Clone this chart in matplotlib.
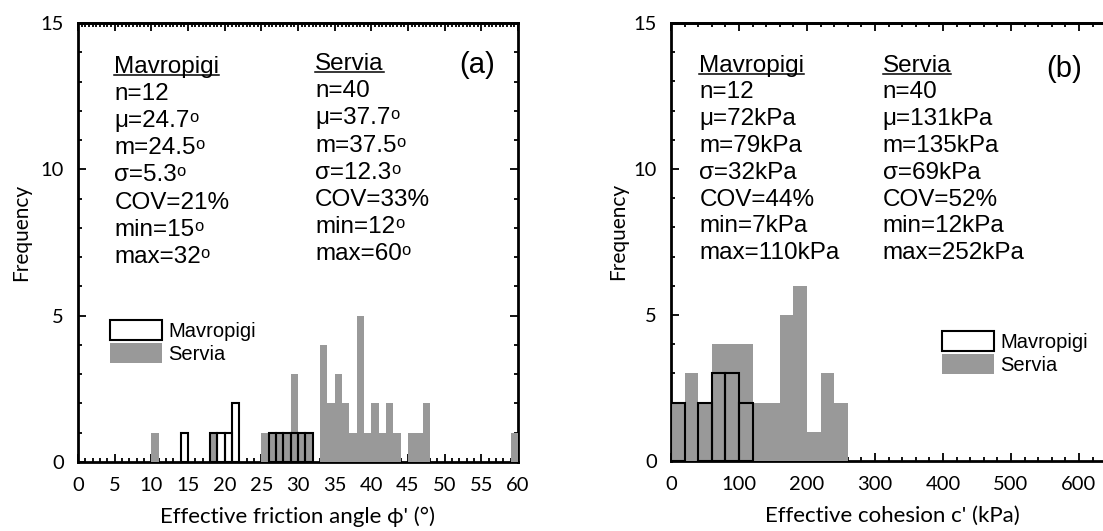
import numpy as np
import matplotlib
matplotlib.use('Agg')
import matplotlib.pyplot as plt
from matplotlib.patches import Patch
from matplotlib.ticker import MultipleLocator

# (a) effective friction angle, 1 deg bins (left edge, count)
phi_serv_left = [10, 18, 25, 26, 27, 28, 29, 30, 31, 33, 34, 35, 36, 37, 38, 39, 40, 41, 42, 43, 45, 46, 47, 59]
phi_serv_count = [1, 1, 1, 1, 1, 1, 3, 1, 1, 4, 2, 3, 2, 1, 5, 1, 2, 1, 2, 1, 1, 1, 2, 1]
phi_mav_left = [14, 18, 19, 20, 21, 26, 27, 28, 29, 30, 31]
phi_mav_count = [1, 1, 1, 1, 2, 1, 1, 1, 1, 1, 1]

# (b) effective cohesion, 20 kPa bins (left edge, count)
c_serv_left = [0, 20, 40, 60, 80, 100, 120, 140, 160, 180, 200, 220, 240]
c_serv_count = [2, 3, 2, 4, 4, 4, 2, 2, 5, 6, 1, 3, 2]
c_mav_left = [0, 40, 60, 80, 100]
c_mav_count = [2, 2, 3, 3, 2]

# summary statistics printed in the panels ('°' = small raised o)
phi_mav_stats = ['n=12', 'μ=24.7°', 'm=24.5°', 'σ=5.3°', 'COV=21%', 'min=15°', 'max=32°']
phi_serv_stats = ['n=40', 'μ=37.7°', 'm=37.5°', 'σ=12.3°', 'COV=33%', 'min=12°', 'max=60°']
c_mav_stats = ['n=12', 'μ=72kPa', 'm=79kPa', 'σ=32kPa', 'COV=44%', 'min=7kPa', 'max=110kPa']
c_serv_stats = ['n=40', 'μ=131kPa', 'm=135kPa', 'σ=69kPa', 'COV=52%', 'min=12kPa', 'max=252kPa']

GRAY = '#999999'
SANS = 'Liberation Sans'
LABEL_FONT = ['Lato', 'DejaVu Sans']
FS = 17.5

fig = plt.figure(figsize=(11.03, 5.31), dpi=100)
ax1 = fig.add_axes([78 / 1103, 69 / 531, 440 / 1103, 439 / 531])
ax2 = fig.add_axes([671 / 1103, 70 / 531, 442 / 1103, 438 / 531])
renderer = fig.canvas.get_renderer()


def style(ax, xmax, major, minor, top_minor, ylab_x):
    ax.set_xlim(0, xmax)
    ax.set_ylim(0, 15)
    ax.xaxis.set_major_locator(MultipleLocator(major))
    ax.xaxis.set_minor_locator(MultipleLocator(minor))
    ax.yaxis.set_major_locator(MultipleLocator(5))
    ax.yaxis.set_minor_locator(MultipleLocator(1))
    for sp in ax.spines.values():
        sp.set_linewidth(2)
    ax.tick_params(which='both', direction='in', right=True, top=False, width=1.3,
                   labelsize=14.5, labelfontfamily='Lato')
    ax.tick_params(axis='x', which='both', pad=11)
    ax.tick_params(axis='y', which='both', pad=10)
    ax.tick_params(which='major', length=5.5)
    ax.tick_params(which='minor', length=2.8)
    top = ax.secondary_xaxis('top')
    top.xaxis.set_major_locator(MultipleLocator(major))
    top.xaxis.set_minor_locator(MultipleLocator(top_minor))
    top.spines['top'].set_linewidth(2)
    top.tick_params(which='both', direction='in', width=1.3, labeltop=False)
    top.tick_params(which='major', length=5.5)
    top.tick_params(which='minor', length=2.8)
    ax.set_ylabel('Frequency', family=LABEL_FONT, fontsize=15)
    ax.yaxis.set_label_coords(ylab_x, 0.524)


def put_line(ax, x, y, s):
    deg = s.endswith('°')
    if deg:
        s = s[:-1]
    t = ax.text(x, y, s, transform=ax.transAxes, fontsize=FS, family=SANS, va='baseline')
    if deg:
        bb = t.get_window_extent(renderer).transformed(ax.transAxes.inverted())
        ax.text(bb.x1 - 0.5 / ax.bbox.width, y + 5.0 / ax.bbox.height, 'o', transform=ax.transAxes,
                fontsize=FS * 0.68, family=SANS, va='baseline')
    return t


def stats_block(ax, x, y0, header, lines, step):
    t = put_line(ax, x, y0, header)
    bb = t.get_window_extent(renderer).transformed(ax.transAxes.inverted())
    uy = y0 - 2.0 / ax.bbox.height
    ax.plot([bb.x0, bb.x1], [uy, uy], transform=ax.transAxes, color='k', lw=1.1, clip_on=False)
    for i, s in enumerate(lines):
        put_line(ax, x, y0 - (i + 1) * step, s)


def legend(ax, x, y):
    handles = [Patch(facecolor='white', edgecolor='k', lw=1.5, label='Mavropigi'),
               Patch(facecolor=GRAY, edgecolor='none', label='Servia')]
    ax.legend(handles=handles, loc='upper left', bbox_to_anchor=(x, y), frameon=False,
              borderpad=0, borderaxespad=0, handlelength=2.6, handleheight=1.15,
              labelspacing=0.12, handletextpad=0.3, prop={'family': SANS, 'size': 14.5})


# panel (a)
ax1.bar(phi_serv_left, phi_serv_count, width=1, align='edge', color=GRAY, lw=0, zorder=3)
ax1.bar(phi_mav_left, phi_mav_count, width=1, align='edge', facecolor='none', edgecolor='k', lw=1.5, zorder=4)
style(ax1, 60, 5, 1, 0.5, -0.106)
ax1.set_xlabel("Effective friction angle ϕ' (°)", family=LABEL_FONT, fontsize=16, labelpad=9)
step_a = 27.2 / ax1.bbox.height
stats_block(ax1, 0.0825, 0.887, 'Mavropigi', phi_mav_stats, step_a)
stats_block(ax1, 0.539, 0.893, 'Servia', phi_serv_stats, step_a)
ax1.text(0.866, 0.886, '(a)', transform=ax1.transAxes, fontsize=21, family=SANS, va='baseline')
legend(ax1, 0.073, 0.323)

# panel (b)
ax2.bar(c_serv_left, c_serv_count, width=20, align='edge', color=GRAY, lw=0, zorder=3)
ax2.bar(c_mav_left, c_mav_count, width=20, align='edge', facecolor='none', edgecolor='k', lw=1.5, zorder=4)
style(ax2, 650, 100, 20, 20, -0.098)
ax2.set_xlabel("Effective cohesion c' (kPa)", family=LABEL_FONT, fontsize=16, labelpad=9)
step_b = 26.8 / ax2.bbox.height
stats_block(ax2, 0.064, 0.889, 'Mavropigi', c_mav_stats, step_b)
stats_block(ax2, 0.479, 0.889, 'Servia', c_serv_stats, step_b)
ax2.text(0.848, 0.877, '(b)', transform=ax2.transAxes, fontsize=21, family=SANS, va='baseline')
legend(ax2, 0.613, 0.297)

fig.savefig('out.png', dpi=100)
